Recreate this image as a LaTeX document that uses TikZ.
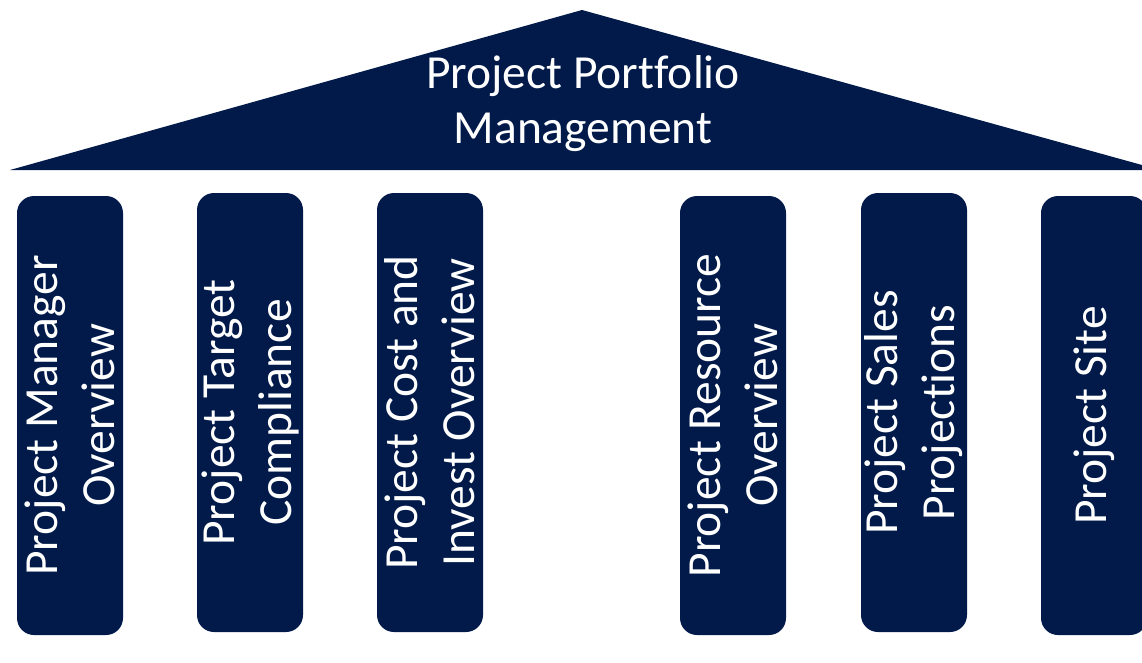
\documentclass[tikz,border=0pt]{standalone}
\usepackage{fontspec}
\setmainfont[Ligatures={NoCommon}]{Carlito}
\definecolor{navy}{RGB}{1,26,73}
\tikzset{pillar/.style={fill=navy, rounded corners=17pt, rotate=90, minimum width=439pt, minimum height=106pt, inner sep=0pt, text=white, align=center}}
\begin{document}
\begin{tikzpicture}[x=1pt, y=-1pt, font=\fontsize{47.5}{57}\selectfont, line join=round]
\useasboundingbox (0,0) rectangle (1142,662);
\clip (0,0) rectangle (1142,662);
% roof
\fill[navy] (10,170)--(582,10)--(1160,170)--cycle;
\node[text=white, align=center, font=\fontsize{47.5}{55}\selectfont] (title) at (583,104) {Project Portfolio\\Management};
% pillars
\node[pillar] (manager) at (70,415.5) {Project Manager\\Overview};
\node[pillar] (target) at (250,412.5) {Project Target\\Compliance};
\node[pillar] (cost) at (430,412.5) {Project Cost and\\Invest Overview};
\node[pillar] (resource) at (733,415.5) {Project Resource\\Overview};
\node[pillar] (sales) at (914,412.5) {Project Sales\\Projections};
\node[pillar] (site) at (1094,415.5) {Project Site};
\end{tikzpicture}
\end{document}
